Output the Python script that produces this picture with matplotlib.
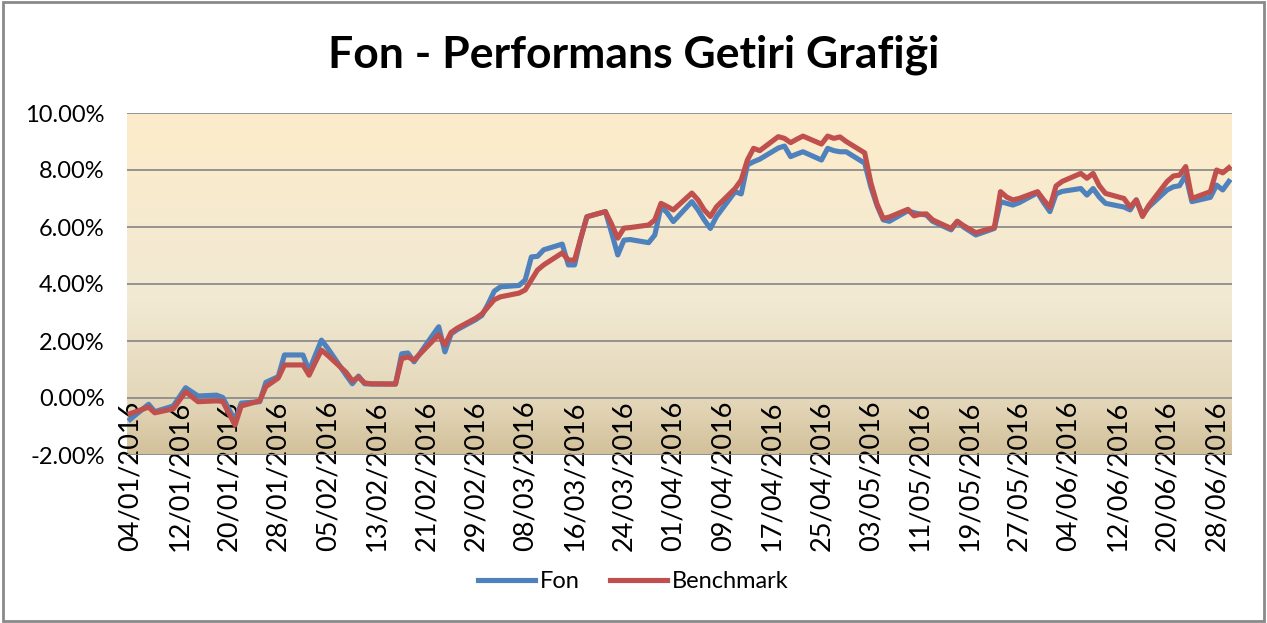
import numpy as np
import pandas as pd
import matplotlib
matplotlib.use("Agg")
import matplotlib.pyplot as plt
import matplotlib.dates as mdates
from matplotlib.colors import LinearSegmentedColormap
from matplotlib.lines import Line2D
from matplotlib.patches import Rectangle

plt.rcParams['font.family'] = ['Lato', 'DejaVu Sans']

# dates of the points (dd/mm/yyyy)
dates = [
    "04/01/2016", "07/01/2016", "08/01/2016", "11/01/2016", "13/01/2016", "15/01/2016",
    "18/01/2016", "19/01/2016", "21/01/2016", "22/01/2016", "25/01/2016", "26/01/2016",
    "27/01/2016", "28/01/2016", "29/01/2016", "01/02/2016", "02/02/2016", "03/02/2016",
    "04/02/2016", "05/02/2016", "08/02/2016", "09/02/2016", "10/02/2016", "11/02/2016",
    "12/02/2016", "15/02/2016", "16/02/2016", "17/02/2016", "18/02/2016", "19/02/2016",
    "22/02/2016", "23/02/2016", "24/02/2016", "25/02/2016", "26/02/2016", "29/02/2016",
    "01/03/2016", "02/03/2016", "03/03/2016", "04/03/2016", "07/03/2016", "08/03/2016",
    "09/03/2016", "10/03/2016", "11/03/2016", "14/03/2016", "15/03/2016", "16/03/2016",
    "17/03/2016", "18/03/2016", "21/03/2016", "22/03/2016", "23/03/2016", "24/03/2016",
    "25/03/2016", "28/03/2016", "29/03/2016", "30/03/2016", "31/03/2016", "01/04/2016",
    "04/04/2016", "05/04/2016", "06/04/2016", "07/04/2016", "08/04/2016", "11/04/2016",
    "12/04/2016", "13/04/2016", "14/04/2016", "15/04/2016", "18/04/2016", "19/04/2016",
    "20/04/2016", "21/04/2016", "22/04/2016", "25/04/2016", "26/04/2016", "27/04/2016",
    "28/04/2016", "29/04/2016", "02/05/2016", "03/05/2016", "04/05/2016", "05/05/2016",
    "06/05/2016", "09/05/2016", "10/05/2016", "11/05/2016", "12/05/2016", "13/05/2016",
    "16/05/2016", "17/05/2016", "18/05/2016", "20/05/2016", "23/05/2016", "24/05/2016",
    "25/05/2016", "26/05/2016", "27/05/2016", "30/05/2016", "31/05/2016", "01/06/2016",
    "02/06/2016", "03/06/2016", "06/06/2016", "07/06/2016", "08/06/2016", "09/06/2016",
    "10/06/2016", "13/06/2016", "14/06/2016", "15/06/2016", "16/06/2016", "17/06/2016",
    "20/06/2016", "21/06/2016", "22/06/2016", "23/06/2016", "24/06/2016", "27/06/2016",
    "28/06/2016", "29/06/2016", "30/06/2016",
]

# cumulative return, %
fon = [
    -0.75, -0.22, -0.48, -0.28, 0.36, 0.07,
    0.10, 0.02, -0.80, -0.18, -0.13, 0.55,
    0.65, 0.75, 1.51, 1.51, 0.95, 1.50,
    2.03, 1.75, 0.80, 0.50, 0.77, 0.50,
    0.49, 0.49, 0.49, 1.55, 1.58, 1.27,
    2.20, 2.50, 1.62, 2.25, 2.40, 2.75,
    2.90, 3.30, 3.75, 3.90, 3.95, 4.14,
    4.95, 4.97, 5.20, 5.40, 4.67, 4.67,
    5.60, 6.36, 6.54, 5.80, 5.02, 5.54,
    5.56, 5.45, 5.72, 6.71, 6.50, 6.19,
    6.89, 6.60, 6.25, 5.95, 6.37, 7.24,
    7.16, 8.18, 8.29, 8.38, 8.77, 8.84,
    8.47, 8.56, 8.64, 8.35, 8.76, 8.68,
    8.64, 8.64, 8.24, 7.40, 6.75, 6.25,
    6.20, 6.57, 6.50, 6.45, 6.42, 6.20,
    5.90, 6.20, 6.00, 5.72, 5.95, 6.89,
    6.83, 6.77, 6.85, 7.20, 6.85, 6.54,
    7.16, 7.25, 7.35, 7.12, 7.35, 7.05,
    6.83, 6.70, 6.60, 6.95, 6.42, 6.70,
    7.30, 7.41, 7.45, 7.82, 6.89, 7.04,
    7.47, 7.30, 7.60,
]

benchmark = [
    -0.55, -0.32, -0.52, -0.38, 0.22, -0.13,
    -0.10, -0.12, -0.95, -0.28, -0.10, 0.40,
    0.55, 0.70, 1.16, 1.16, 0.80, 1.25,
    1.68, 1.50, 0.90, 0.60, 0.73, 0.53,
    0.50, 0.49, 0.49, 1.38, 1.44, 1.33,
    2.00, 2.22, 1.86, 2.30, 2.45, 2.80,
    2.95, 3.20, 3.45, 3.55, 3.68, 3.79,
    4.14, 4.49, 4.67, 5.09, 4.84, 4.84,
    5.60, 6.36, 6.54, 6.10, 5.61, 5.96,
    5.98, 6.07, 6.25, 6.83, 6.72, 6.60,
    7.19, 6.95, 6.60, 6.37, 6.71, 7.35,
    7.65, 8.35, 8.76, 8.68, 9.17, 9.11,
    8.96, 9.08, 9.19, 8.91, 9.19, 9.11,
    9.16, 9.00, 8.60, 7.55, 6.80, 6.30,
    6.35, 6.62, 6.39, 6.45, 6.46, 6.25,
    5.95, 6.20, 6.05, 5.80, 5.98, 7.24,
    7.05, 6.95, 7.00, 7.24, 6.95, 6.69,
    7.44, 7.60, 7.88, 7.71, 7.88, 7.45,
    7.18, 7.00, 6.70, 6.95, 6.37, 6.75,
    7.60, 7.79, 7.82, 8.12, 7.00, 7.24,
    8.00, 7.90, 8.08,
]

x = pd.to_datetime(dates, format="%d/%m/%Y")
ticks = pd.date_range("2016-01-04", "2016-06-30", freq="8D")

W, H = 1267, 623
fig = plt.figure(figsize=(W / 100, H / 100), dpi=100)
fig.patch.set_facecolor("white")
fig.patches.append(Rectangle((0.002, 0.003), 0.996, 0.994, transform=fig.transFigure,
                             fill=False, edgecolor="#8a8a8a", linewidth=2))

pos = [127 / W, 1 - 455 / H, (1232 - 127) / W, (455 - 113) / H]

# gradient behind the plot area
bg = fig.add_axes(pos, zorder=0)
cmap = LinearSegmentedColormap.from_list(
    "parch", [(0.0, "#d2c09a"), (0.15, "#e3d6b8"), (0.45, "#f1e9d3"), (1.0, "#fdecca")])
bg.imshow(np.linspace(0, 1, 256).reshape(-1, 1), aspect="auto", cmap=cmap,
          origin="lower", extent=[0, 1, 0, 1])
bg.axis("off")

ax = fig.add_axes(pos, zorder=1)
ax.set_facecolor("none")

ax.plot(x, fon, color="#4f81bd", lw=3.7, solid_joinstyle="round", zorder=3)
ax.plot(x, benchmark, color="#c0504d", lw=3.7, solid_joinstyle="round", zorder=4)

ax.set_xlim(pd.Timestamp("2016-01-04") - pd.Timedelta(hours=12),
            pd.Timestamp("2016-06-30") + pd.Timedelta(hours=12))
ax.set_ylim(-2, 10)
ax.set_yticks(np.arange(-2, 10.1, 2))
ax.yaxis.set_major_formatter(plt.FuncFormatter(lambda v, p: f"{v:.2f}%"))
ax.grid(axis="y", color="#8c8c8c", lw=1.3)
ax.set_axisbelow(True)

ax.set_xticks(ticks)
ax.xaxis.set_major_formatter(mdates.DateFormatter("%d/%m/%Y"))
ax.spines["bottom"].set_position(("data", 0))
for s in ax.spines.values():
    s.set_color("none")
ax.tick_params(axis="x", length=0, pad=2, labelsize=19.5, labelrotation=90)
ax.tick_params(axis="y", length=0, pad=16, labelsize=17)

fig.text(0.5, 1 - 55 / H, "Fon - Performans Getiri Grafiği", ha="center", va="center",
         fontsize=32, fontweight="bold")

handles = [Line2D([], [], color="#4f81bd", lw=3.7),
           Line2D([], [], color="#c0504d", lw=3.7)]
fig.legend(handles, ["Fon", "Benchmark"], loc="center", bbox_to_anchor=(0.5, 1 - 582 / H),
           ncol=2, frameon=False, fontsize=17, handlelength=2.4, handletextpad=0.2,
           columnspacing=1.3)

fig.savefig("out.png", dpi=100)
